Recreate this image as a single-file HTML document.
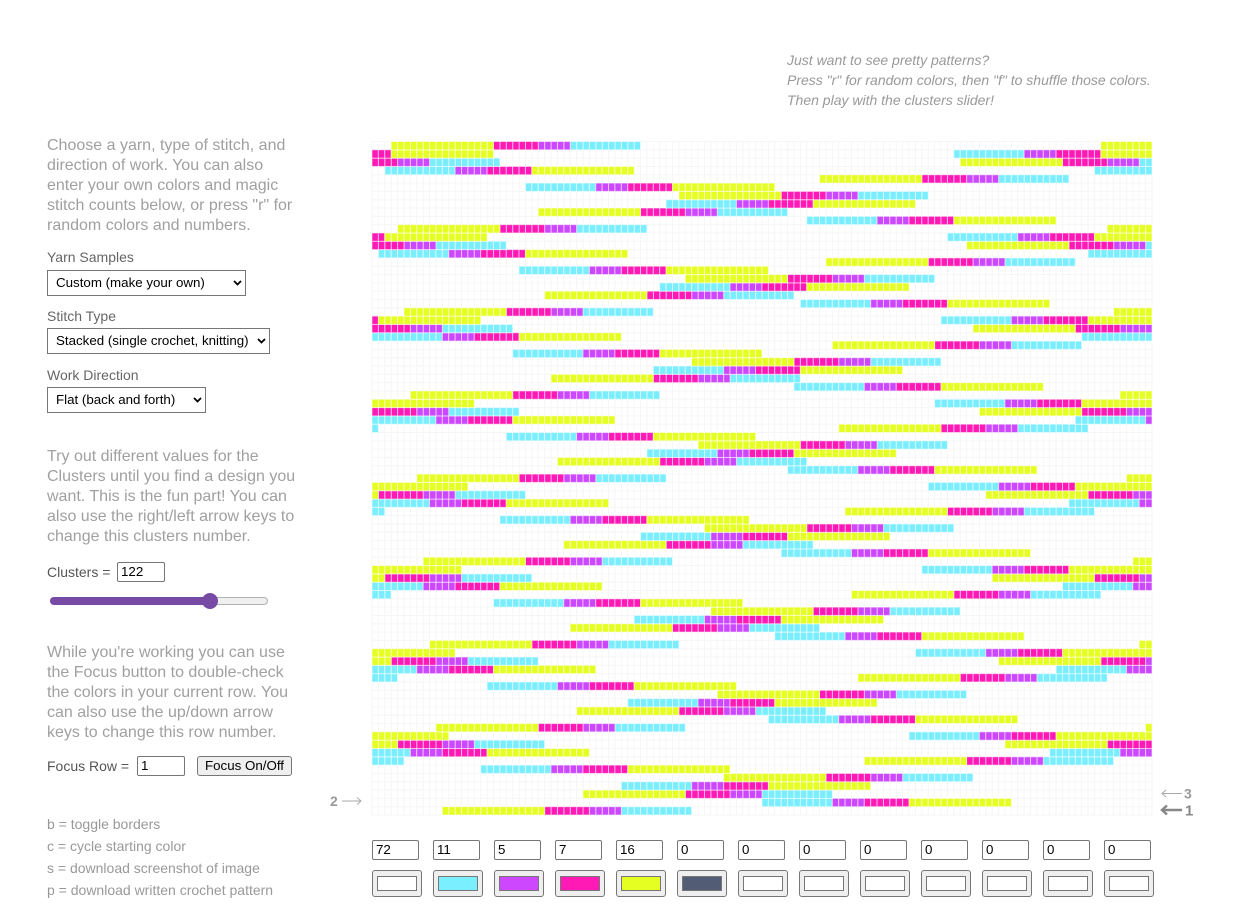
<!DOCTYPE html>
<html><head><meta charset="utf-8">
<style>
*{box-sizing:border-box}
body{margin:0;width:1255px;height:921px;background:#fff;font-family:"Liberation Sans",Arial,sans-serif;position:relative;overflow:hidden}
.a{position:absolute;white-space:nowrap}
.p{font-size:16px;line-height:20px;color:#a0a0a0;left:47px}
.lab{font-size:14px;line-height:20px;color:#666;left:47px}
.it{font-size:14px;line-height:20px;color:#999;font-style:italic;left:787px}
.keys{font-size:14px;line-height:22px;color:#999;left:47px}
.sel{position:absolute;left:47px;height:26px;border:1px solid #767676;background:#fff;font-size:13.33px;color:#000;line-height:24px;padding-left:8px;white-space:nowrap}
.sel svg{position:absolute;right:3px;top:9px}
.inp{position:absolute;height:20px;border:1px solid #767676;border-radius:2px;font-size:13.33px;line-height:18px;padding-left:3px;color:#000;background:#fff;white-space:nowrap}
.btn{position:absolute;background:#efefef;border:1px solid #767676;border-radius:3px}
.sw{position:absolute;top:870px;width:50px;height:27px;background:#efefef;border:1px solid #767676;border-radius:3px}
.sw span{position:absolute;left:4px;top:5px;width:40px;height:15px;border:1px solid #777}
</style></head>
<body>

<div class="a it" style="top:50px">Just want to see pretty patterns?<br>Press "r" for random colors, then "f" to shuffle those colors.<br>Then play with the clusters slider!</div>

<div class="a p" style="top:136px">Choose a yarn, type of stitch, and<br>direction of work. You can also<br>enter your own colors and magic<br>stitch counts below, or press "r" for<br>random colors and numbers.</div>

<div class="a lab" style="top:247px">Yarn Samples</div>
<div class="sel" style="top:270px;width:199px">Custom (make your own)<svg width="9" height="6" viewBox="0 0 9 6"><polyline points="1,1 4.5,4.5 8,1" fill="none" stroke="#000" stroke-width="1.8"/></svg></div>

<div class="a lab" style="top:306px">Stitch Type</div>
<div class="sel" style="top:328px;width:223px">Stacked (single crochet, knitting)<svg width="9" height="6" viewBox="0 0 9 6"><polyline points="1,1 4.5,4.5 8,1" fill="none" stroke="#000" stroke-width="1.8"/></svg></div>

<div class="a lab" style="top:365px">Work Direction</div>
<div class="sel" style="top:387px;width:159px">Flat (back and forth)<svg width="9" height="6" viewBox="0 0 9 6"><polyline points="1,1 4.5,4.5 8,1" fill="none" stroke="#000" stroke-width="1.8"/></svg></div>

<div class="a p" style="top:447px">Try out different values for the<br>Clusters until you find a design you<br>want. This is the fun part! You can<br>also use the right/left arrow keys to<br>change this clusters number.</div>

<div class="a lab" style="top:562px;color:#555">Clusters =</div>
<div class="inp" style="left:117px;top:562px;width:48px">122</div>

<div style="position:absolute;left:50px;top:597px;width:218px;height:8px;border-radius:4px;background:#efefef;border:1px solid #b2b2b2"></div>
<div style="position:absolute;left:50px;top:597px;width:162px;height:8px;border-radius:4px;background:#774ba5"></div>
<div style="position:absolute;left:202px;top:593px;width:16px;height:16px;border-radius:8px;background:#774ba5"></div>

<div class="a p" style="top:643px">While you're working you can use<br>the Focus button to double-check<br>the colors in your current row. You<br>can also use the up/down arrow<br>keys to change this row number.</div>

<div class="a lab" style="top:756px;color:#555">Focus Row =</div>
<div class="inp" style="left:137px;top:756px;width:48px">1</div>
<div class="btn" style="left:197px;top:756px;width:95px;height:20px;font-size:13.33px;line-height:18px;text-align:center;color:#000">Focus On/Off</div>

<div class="a keys" style="top:813px">b = toggle borders<br>c = cycle starting color<br>s = download screenshot of image<br>p = download written crochet pattern</div>

<svg id="grid" style="position:absolute;left:0;top:0" width="1255" height="921"></svg>

<svg style="position:absolute;left:0;top:0" width="1255" height="921">
<text x="330" y="806" font-family="Liberation Sans, Arial, sans-serif" font-size="14" font-weight="bold" fill="#999">2</text>
<line x1="342" y1="801" x2="361" y2="801" stroke="#aaa" stroke-width="1"/>
<polyline points="357,797.5 361,801 357,804.5" fill="none" stroke="#aaa" stroke-width="1"/>
<line x1="1162" y1="793.5" x2="1182" y2="793.5" stroke="#aaa" stroke-width="1"/>
<polyline points="1166,790 1162,793.5 1166,797" fill="none" stroke="#aaa" stroke-width="1"/>
<text x="1184" y="798.5" font-family="Liberation Sans, Arial, sans-serif" font-size="14" font-weight="bold" fill="#999">3</text>
<line x1="1162" y1="810" x2="1182" y2="810" stroke="#888" stroke-width="2.5"/>
<polyline points="1167,805.5 1162,810 1167,814.5" fill="none" stroke="#888" stroke-width="2.5"/>
<text x="1185" y="815.5" font-family="Liberation Sans, Arial, sans-serif" font-size="15" font-weight="bold" fill="#888">1</text>
</svg>

<div class="inp" style="left:372px;top:840px;width:47px">72</div>
<div class="inp" style="left:433px;top:840px;width:47px">11</div>
<div class="inp" style="left:494px;top:840px;width:47px">5</div>
<div class="inp" style="left:555px;top:840px;width:47px">7</div>
<div class="inp" style="left:616px;top:840px;width:47px">16</div>
<div class="inp" style="left:677px;top:840px;width:47px">0</div>
<div class="inp" style="left:738px;top:840px;width:47px">0</div>
<div class="inp" style="left:799px;top:840px;width:47px">0</div>
<div class="inp" style="left:860px;top:840px;width:47px">0</div>
<div class="inp" style="left:921px;top:840px;width:47px">0</div>
<div class="inp" style="left:982px;top:840px;width:47px">0</div>
<div class="inp" style="left:1043px;top:840px;width:47px">0</div>
<div class="inp" style="left:1104px;top:840px;width:47px">0</div>

<div class="sw" style="left:372px"><span style="background:#fff"></span></div>
<div class="sw" style="left:433px"><span style="background:#79efff"></span></div>
<div class="sw" style="left:494px"><span style="background:#cc47ff"></span></div>
<div class="sw" style="left:555px"><span style="background:#ff19b5"></span></div>
<div class="sw" style="left:616px"><span style="background:#e6ff22"></span></div>
<div class="sw" style="left:677px"><span style="background:#525c75"></span></div>
<div class="sw" style="left:738px"><span style="background:#fff"></span></div>
<div class="sw" style="left:799px"><span style="background:#fff"></span></div>
<div class="sw" style="left:860px"><span style="background:#fff"></span></div>
<div class="sw" style="left:921px"><span style="background:#fff"></span></div>
<div class="sw" style="left:982px"><span style="background:#fff"></span></div>
<div class="sw" style="left:1043px"><span style="background:#fff"></span></div>
<div class="sw" style="left:1104px"><span style="background:#fff"></span></div>

<script>
(function(){
var W=122,R=81,T=111,gx=372,gy=141.5,cw=780/122,ch=673.5/81;
var cols=[null,'#7aeeff','#cc48ff','#ff1ab6','#e6ff22'];
var bounds=[72,83,88,95,111];
var s='',g2='',H=R*ch,i,j,r,k;
for(i=0;i<=W;i++){var x=(gx+i*cw).toFixed(2);s+='<line x1="'+x+'" y1="'+gy+'" x2="'+x+'" y2="'+(gy+H).toFixed(2)+'"/>';}
for(j=0;j<=R;j++){var yy=(gy+j*ch).toFixed(2);s+='<line x1="'+gx+'" y1="'+yy+'" x2="'+(gx+780)+'" y2="'+yy+'"/>';}
for(r=1;r<=R;r++){
 var y=gy+(R-r)*ch;
 for(k=0;k<W;k++){
  var c=((r-1)*W+k)%T,ci=0;
  while(c>=bounds[ci])ci++;
  if(ci==0)continue;
  var col=(r%2==1)?W-1-k:k;
  g2+='<rect x="'+(gx+col*cw).toFixed(2)+'" y="'+y.toFixed(2)+'" width="'+cw.toFixed(2)+'" height="'+ch.toFixed(2)+'" fill="'+cols[ci]+'"/>';
 }
}
document.getElementById('grid').innerHTML='<g stroke="#f6f6f6" stroke-width="1">'+s+'</g><g stroke="rgba(255,255,255,0.55)" stroke-width="1">'+g2+'</g>';
})();
</script>
</body></html>
